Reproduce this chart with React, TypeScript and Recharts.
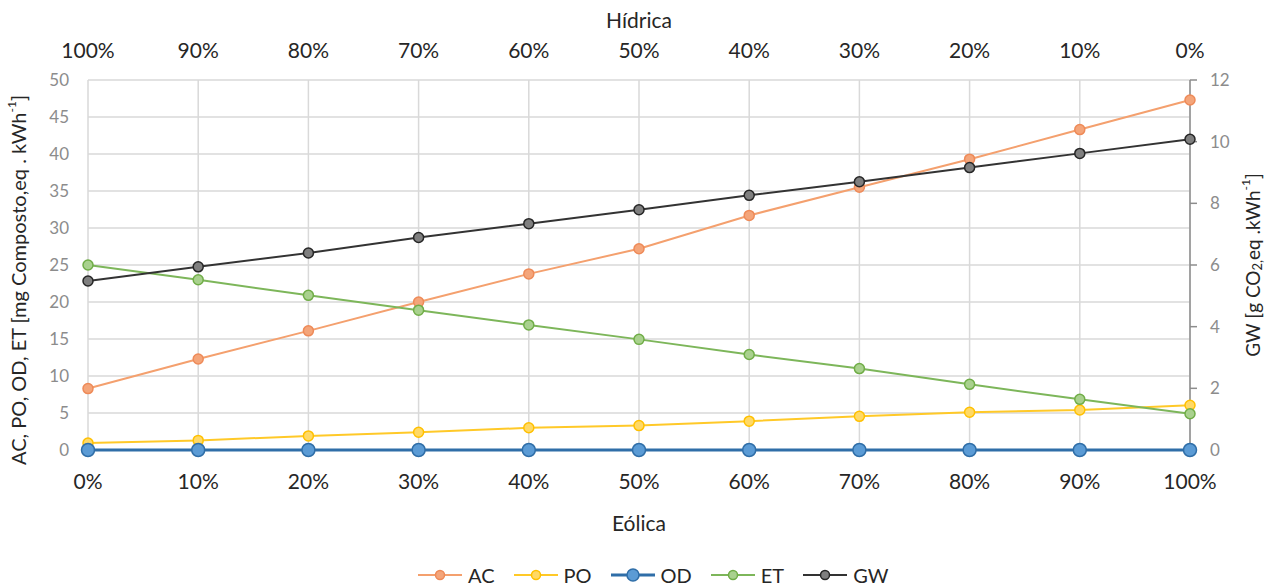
import React from 'react';
import { LineChart, Line, XAxis, YAxis, CartesianGrid, Legend } from 'recharts';

const eolica = ['0%', '10%', '20%', '30%', '40%', '50%', '60%', '70%', '80%', '90%', '100%'];
const hidrica = ['100%', '90%', '80%', '70%', '60%', '50%', '40%', '30%', '20%', '10%', '0%'];
const acValues = [8.3, 12.3, 16.1, 20.0, 23.8, 27.2, 31.7, 35.5, 39.3, 43.3, 47.3];
const poValues = [0.95, 1.3, 1.9, 2.4, 3.0, 3.3, 3.9, 4.55, 5.1, 5.4, 6.05];
const odValues = [0, 0, 0, 0, 0, 0, 0, 0, 0, 0, 0];
const etValues = [25.0, 23.0, 20.9, 18.9, 16.9, 14.95, 12.9, 11.0, 8.87, 6.85, 4.9];
const gwValues = [5.48, 5.94, 6.39, 6.89, 7.34, 7.79, 8.26, 8.7, 9.16, 9.62, 10.08];
const leftTicks = [0, 5, 10, 15, 20, 25, 30, 35, 40, 45, 50];
const rightTicks = [0, 2, 4, 6, 8, 10, 12];

const data = eolica.map((e, i) => ({
  eol: e,
  hid: hidrica[i],
  AC: acValues[i],
  PO: poValues[i],
  OD: odValues[i],
  ET: etValues[i],
  GW: gwValues[i],
}));

const FONT = 'Lato, "Open Sans", sans-serif';

const series = [
  { key: 'AC', line: '#F4A06E', fill: '#F4A57A', stroke: '#EE8A58', width: 2, r: 5, axis: 'left' },
  { key: 'PO', line: '#FFC928', fill: '#FFD966', stroke: '#FFC000', width: 2, r: 5, axis: 'left' },
  { key: 'OD', line: '#2F6EA8', fill: '#5B9BD5', stroke: '#2F6EA8', width: 3, r: 6.5, axis: 'left' },
  { key: 'ET', line: '#7DB65A', fill: '#A9D18E', stroke: '#70AD47', width: 2, r: 5, axis: 'left' },
  { key: 'GW', line: '#333333', fill: '#7F7F7F', stroke: '#262626', width: 2, r: 5, axis: 'right' },
];

const LeftTitle = (props: any) => {
  const cx = 18;
  const cy = 280;
  return (
    <text transform={`translate(${cx},${cy}) rotate(-90)`} textAnchor="middle" fontFamily={FONT} fontSize={20} fill="#262626" dominantBaseline="central">
      AC, PO, OD, ET [mg Composto,eq . kWh<tspan dy={-7} fontSize={12}>-1</tspan><tspan dy={7}>]</tspan>
    </text>
  );
};

const RightTitle = (props: any) => {
  const cx = 1252;
  const cy = 265;
  return (
    <text transform={`translate(${cx},${cy}) rotate(-90)`} textAnchor="middle" fontFamily={FONT} fontSize={19} fill="#262626" dominantBaseline="central">
      GW [g CO<tspan dy={5} fontSize={13}>2,</tspan><tspan dy={-5}>eq .kWh</tspan><tspan dy={-7} fontSize={12}>-1</tspan><tspan dy={7}>]</tspan>
    </text>
  );
};

const TopTitle = () => (
  <text x={639} y={28} textAnchor="middle" fontFamily={FONT} fontSize={21} fill="#262626">Hídrica</text>
);

const BottomTitle = () => (
  <text x={639} y={531} textAnchor="middle" fontFamily={FONT} fontSize={21} fill="#262626">Eólica</text>
);

const LegendContent = () => (
  <div style={{ display: 'flex', justifyContent: 'flex-start', alignItems: 'center', fontFamily: FONT, fontSize: 20, lineHeight: '24px', color: '#262626', paddingLeft: 418 }}>
    {series.map((s, i) => (
      <div key={s.key} style={{ display: 'flex', alignItems: 'center', marginRight: i === series.length - 1 ? 0 : 19 }}>
        <svg width={44} height={16} style={{ marginRight: 6 }}>
          <line x1={0} y1={8} x2={44} y2={8} stroke={s.line} strokeWidth={s.width} />
          <circle cx={22} cy={8} r={s.key === 'OD' ? 6 : 4.5} fill={s.fill} stroke={s.stroke} strokeWidth={1.5} />
        </svg>
        <span>{s.key}</span>
      </div>
    ))}
  </div>
);

export default function App() {
  return (
    <div style={{ position: 'absolute', left: 0, top: 0, width: 1271, height: 587, background: '#fff' }}>
      <LineChart width={1271} height={587} data={data} margin={{ top: 10, right: 21, bottom: 37, left: 18 }}>
        <CartesianGrid xAxisId="bottom" yAxisId="left" stroke="#D9D9D9" strokeWidth={1.5} />
        <XAxis
          xAxisId="bottom"
          dataKey="eol"
          orientation="bottom"
          height={100}
          axisLine={false}
          tickLine={false}
          tickSize={0}
          tickMargin={24}
          interval={0}
          tick={{ fontFamily: FONT, fontSize: 21, fill: '#262626' }}
          label={<BottomTitle />}
        />
        <XAxis
          xAxisId="top"
          dataKey="hid"
          orientation="top"
          height={70}
          axisLine={false}
          tickLine={false}
          tickSize={0}
          tickMargin={22}
          interval={0}
          tick={{ fontFamily: FONT, fontSize: 21, fill: '#262626' }}
          label={<TopTitle />}
        />
        <YAxis
          yAxisId="left"
          orientation="left"
          width={70}
          domain={[0, 50]}
          ticks={leftTicks}
          axisLine={false}
          tickLine={false}
          tickSize={0}
          tickMargin={19}
          tick={{ fontFamily: FONT, fontSize: 17, fill: '#8C8C8C' }}
          label={<LeftTitle />}
        />
        <YAxis
          yAxisId="right"
          orientation="right"
          width={60}
          domain={[0, 12]}
          ticks={rightTicks}
          axisLine={{ stroke: '#8C8C8C', strokeWidth: 1.5 }}
          tickLine={{ stroke: '#8C8C8C', strokeWidth: 1.5 }}
          tickSize={7}
          tickMargin={13}
          tick={{ fontFamily: FONT, fontSize: 17, fill: '#8C8C8C' }}
          label={<RightTitle />}
        />
        {series.map((s) => (
          <Line
            key={s.key}
            xAxisId="bottom"
            yAxisId={s.axis}
            type="linear"
            dataKey={s.key}
            stroke={s.line}
            strokeWidth={s.width}
            dot={{ r: s.r, fill: s.fill, stroke: s.stroke, strokeWidth: 1.5 }}
            activeDot={false}
            isAnimationActive={false}
          />
        ))}
        <Legend
          layout="horizontal"
          verticalAlign="middle"
          align="center"
          content={<LegendContent />}
          wrapperStyle={{ position: 'absolute', top: 563, left: 0, width: 1271, height: 24 }}
        />
      </LineChart>
    </div>
  );
}
